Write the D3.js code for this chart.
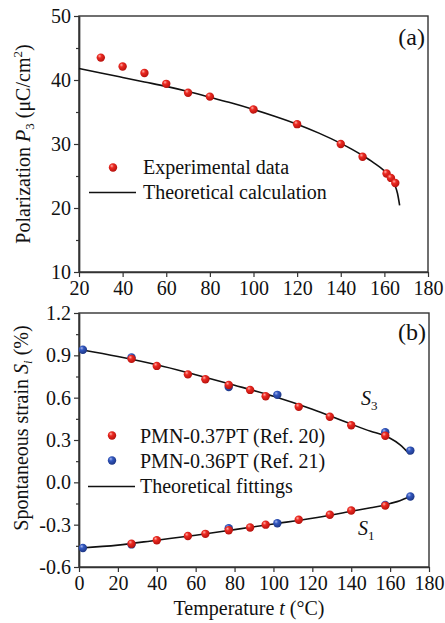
<!DOCTYPE html>
<html><head><meta charset="utf-8">
<script src="https://cdn.jsdelivr.net/npm/d3@7"></script>
<style>
html,body{margin:0;padding:0;background:#fff;}
svg{display:block;}
</style></head>
<body><svg id="c" width="445" height="623" font-family="Liberation Serif"></svg>
<script>
// ---------- Panel (a) data ----------
const expT = [30, 40, 50, 60, 70, 80, 100, 120, 140, 150, 161, 163, 165];
const expP = [43.5, 42.1, 41.1, 39.4, 38.0, 37.4, 35.4, 33.1, 30.0, 28.0, 25.4, 24.7, 23.9];
const theoT = [20, 30, 40, 50, 60, 70, 80, 90, 100, 110, 120, 130, 140, 145, 150, 155, 160, 163, 165, 166, 167];
const theoP = [41.8, 41.1, 40.4, 39.7, 39.0, 38.2, 37.3, 36.4, 35.4, 34.3, 33.1, 31.7, 30.1, 29.2, 28.2, 27.1, 25.8, 24.6, 23.4, 22.3, 20.4];
const aXTicks = [20, 40, 60, 80, 100, 120, 140, 160, 180];
const aYTicks = [10, 20, 30, 40, 50];
const aYMinor = [15, 25, 35, 45];

// ---------- Panel (b) data ----------
const redT  = [27, 40, 56, 65, 77, 88, 96, 113, 129, 140, 157.5];
const redS3 = [0.875, 0.825, 0.765, 0.73, 0.69, 0.655, 0.61, 0.535, 0.465, 0.405, 0.33];
const redS1 = [-0.435, -0.41, -0.38, -0.365, -0.34, -0.32, -0.30, -0.265, -0.23, -0.20, -0.165];
const blueT  = [2, 27, 77, 102, 157.5, 170.4];
const blueS3 = [0.94, 0.885, 0.675, 0.62, 0.355, 0.225];
const blueS1 = [-0.465, -0.44, -0.325, -0.29, -0.16, -0.10];
const fitT  = [1, 20, 40, 60, 80, 100, 120, 140, 150, 157, 160, 165, 170];
const fitS3 = [0.94, 0.892, 0.833, 0.762, 0.688, 0.610, 0.518, 0.412, 0.362, 0.332, 0.312, 0.268, 0.20];
const fitS1 = [-0.465, -0.445, -0.41, -0.375, -0.335, -0.295, -0.255, -0.205, -0.18, -0.162, -0.15, -0.13, -0.10];
const bXTicks = [0, 20, 40, 60, 80, 100, 120, 140, 160, 180];
const bYTicks = [-0.6, -0.3, 0.0, 0.3, 0.6, 0.9, 1.2];
const bYMinor = [-0.45, -0.15, 0.15, 0.45, 0.75, 1.05];

const FONT = "Liberation Serif";
const svg = d3.select("#c");
const AX = "#333";

// gradients for sphere-like markers
const defs = svg.append("defs");
function grad(id, light, mid, dark) {
  const g = defs.append("radialGradient").attr("id", id)
    .attr("cx", "40%").attr("cy", "38%").attr("r", "65%").attr("fx", "35%").attr("fy", "30%");
  g.append("stop").attr("offset", "0%").attr("stop-color", light);
  g.append("stop").attr("offset", "35%").attr("stop-color", mid);
  g.append("stop").attr("offset", "100%").attr("stop-color", dark);
}
grad("gr", "#ffb0a8", "#ec2a22", "#b3100c");
grad("gb", "#a9b8ee", "#3358c0", "#1c3583");

function txt(sel, x, y, size) {
  return sel.append("text").attr("x", x).attr("y", y).attr("font-family", FONT).attr("font-size", size).attr("fill", "#111");
}

function panel(box, xDom, yDom, xTicks, yTicks, yMinor, yFmt) {
  const x = d3.scaleLinear().domain(xDom).range([box.l, box.r]);
  const y = d3.scaleLinear().domain(yDom).range([box.b, box.t]);
  const g = svg.append("g");
  g.append("rect").attr("x", box.l).attr("y", box.t).attr("width", box.r - box.l).attr("height", box.b - box.t)
    .attr("fill", "none").attr("stroke", AX).attr("stroke-width", 1.4);
  const xa = g.append("g").attr("transform", `translate(0,${box.b})`)
    .call(d3.axisBottom(x).tickValues(xTicks).tickSize(5).tickSizeOuter(0).tickPadding(4).tickFormat(d3.format("d")));
  const ya = g.append("g").attr("transform", `translate(${box.l},0)`)
    .call(d3.axisLeft(y).tickValues(yTicks).tickSize(5).tickSizeOuter(0).tickPadding(3).tickFormat(yFmt));
  const ym = g.append("g").attr("transform", `translate(${box.l},0)`)
    .call(d3.axisLeft(y).tickValues(yMinor).tickSize(3).tickSizeOuter(0).tickFormat(""));
  [xa, ya, ym].forEach(a => {
    a.attr("font-family", FONT).attr("font-size", 20);
    a.select(".domain").attr("stroke", AX).attr("stroke-width", 1.4);
    a.selectAll(".tick line").attr("stroke", AX).attr("stroke-width", 1.2);
    a.selectAll("text").attr("fill", "#111");
  });
  return {x, y, g};
}

const lineGen = (xs, ys, sx, sy) => d3.line().curve(d3.curveMonotoneX)(xs.map((t, i) => [sx(t), sy(ys[i])]));

// ---------- Panel (a) ----------
const A = panel({l: 79, r: 428, t: 16, b: 272}, [20, 180], [10, 50], aXTicks, aYTicks, aYMinor, d3.format("d"));
A.g.append("path").attr("d", lineGen(theoT, theoP, A.x, A.y)).attr("fill", "none").attr("stroke", "#111").attr("stroke-width", 1.6);
A.g.append("g").selectAll("circle").data(expT).enter().append("circle")
  .attr("cx", d => A.x(d)).attr("cy", (d, i) => A.y(expP[i])).attr("r", 4.2).attr("fill", "url(#gr)");
A.g.append("circle").attr("cx", 113).attr("cy", 167.5).attr("r", 4.2).attr("fill", "url(#gr)");
A.g.append("line").attr("x1", 89).attr("x2", 136).attr("y1", 192.5).attr("y2", 192.5).attr("stroke", "#111").attr("stroke-width", 1.6);
txt(A.g, 143, 174, 20).text("Experimental data");
txt(A.g, 143, 199, 20).text("Theoretical calculation");
txt(A.g, 425, 45, 24).attr("text-anchor", "end").text("(a)");
const la = txt(svg, 0, 0, 20).attr("transform", "translate(30,144) rotate(-90)").attr("text-anchor", "middle");
la.append("tspan").text("Polarization ");
la.append("tspan").attr("font-style", "italic").text("P");
la.append("tspan").attr("dy", 4).attr("font-size", 13).text("3");
la.append("tspan").attr("dy", -4).text(" (μC/cm");
la.append("tspan").attr("dy", -8).attr("font-size", 13).text("2");
la.append("tspan").attr("dy", 8).text(")");

// ---------- Panel (b) ----------
const B = panel({l: 79, r: 429, t: 313, b: 567}, [0, 180], [-0.6, 1.2], bXTicks, bYTicks, bYMinor, d => d.toFixed(1));
B.g.append("path").attr("d", lineGen(fitT, fitS3, B.x, B.y)).attr("fill", "none").attr("stroke", "#111").attr("stroke-width", 1.6);
B.g.append("path").attr("d", lineGen(fitT, fitS1, B.x, B.y)).attr("fill", "none").attr("stroke", "#111").attr("stroke-width", 1.6);
[[blueT, blueS3, "gb"], [blueT, blueS1, "gb"], [redT, redS3, "gr"], [redT, redS1, "gr"]].forEach(([ts, vs, gid]) => {
  B.g.append("g").selectAll("circle").data(ts).enter().append("circle")
    .attr("cx", d => B.x(d)).attr("cy", (d, i) => B.y(vs[i])).attr("r", 4.2).attr("fill", `url(#${gid})`);
});
B.g.append("circle").attr("cx", 112).attr("cy", 435.5).attr("r", 4.2).attr("fill", "url(#gr)");
B.g.append("circle").attr("cx", 112).attr("cy", 460.5).attr("r", 4.2).attr("fill", "url(#gb)");
B.g.append("line").attr("x1", 88).attr("x2", 135).attr("y1", 486.5).attr("y2", 486.5).attr("stroke", "#111").attr("stroke-width", 1.6);
txt(B.g, 140, 443, 20).text("PMN-0.37PT (Ref. 20)");
txt(B.g, 140, 468, 20).text("PMN-0.36PT (Ref. 21)");
txt(B.g, 140, 493, 20).text("Theoretical fittings");
txt(B.g, 426, 340, 24).attr("text-anchor", "end").text("(b)");
function sLabel(xp, yp, sub) {
  const t = txt(B.g, xp, yp, 20);
  t.append("tspan").attr("font-style", "italic").text("S");
  t.append("tspan").attr("dy", 5).attr("font-size", 13).text(sub);
}
sLabel(361, 405, "3");
sLabel(358, 535, "1");
const lb = txt(svg, 0, 0, 20).attr("transform", "translate(28,428) rotate(-90)").attr("text-anchor", "middle");
lb.append("tspan").text("Spontaneous strain ");
lb.append("tspan").attr("font-style", "italic").text("S");
lb.append("tspan").attr("dy", 4).attr("font-size", 13).attr("font-style", "italic").text("i");
lb.append("tspan").attr("dy", -4).text(" (%)");
const xl = txt(svg, 249, 615, 20).attr("text-anchor", "middle");
xl.append("tspan").text("Temperature ");
xl.append("tspan").attr("font-style", "italic").text("t");
xl.append("tspan").text(" (°C)");
</script>
</body></html>
